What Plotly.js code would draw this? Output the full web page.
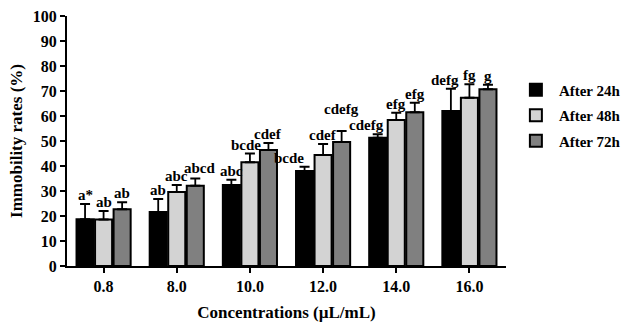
<!DOCTYPE html>
<html>
<head>
<meta charset="utf-8">
<script src="https://cdn.plot.ly/plotly-3.0.1.min.js"></script>
<style>html,body{margin:0;padding:0;background:#fff;}#chart{width:627px;height:327px;}</style>
</head>
<body>
<div id="chart"></div>
<script>
var categories = ["0.8", "8.0", "10.0", "12.0", "14.0", "16.0"];
var seriesNames = ["After 24h", "After 48h", "After 72h"];
var after24 = [18.7, 21.6, 32.4, 38.0, 51.3, 62.0];
var after48 = [18.6, 29.6, 41.5, 44.4, 58.4, 67.3];
var after72 = [22.7, 32.1, 46.4, 49.6, 61.5, 70.7];
var err24 = [6.1, 5.2, 2.1, 1.7, 1.4, 8.9];
var err48 = [3.4, 2.8, 3.5, 4.4, 2.9, 5.4];
var err72 = [2.8, 2.9, 2.8, 4.4, 3.8, 1.8];
var letters24 = ["a*", "ab", "abc", "bcde", "cdefg", "defg"];
var letters48 = ["ab", "abc", "bcde", "cdef", "efg", "fg"];
var letters72 = ["ab", "abcd", "cdef", "cdefg", "efg", "g"];

var colors = ["#000000", "#d3d3d3", "#808080"];
var values = [after24, after48, after72];
var errs = [err24, err48, err72];
var letters = [letters24, letters48, letters72];

var FONT = "Liberation Serif, Times New Roman, serif";
var bargap = 0.24, bargroupgap = 0.08;
var slot = (1 - bargap) / 3;

var traces = values.map(function (v, k) {
  return {
    type: "bar",
    name: "<b>" + seriesNames[k] + "</b>",
    legendgroup: "g" + k,
    x: categories,
    y: v,
    marker: {color: colors[k], line: {color: "#000", width: 2}},
    error_y: {type: "data", array: errs[k], symmetric: false, arrayminus: v.map(function(){return 0;}), color: "#000", thickness: 1.8, width: 5},
    hoverinfo: "skip"
  };
});

// label nudges (pixels) to avoid overlaps, as in the figure
var nudgeX = {"0-3": -16, "0-4": -11, "0-5": -6, "2-1": 5, "1-2": -4};
var nudgeY = {"2-3": 13, "2-1": 2};

var annotations = [];
for (var k = 0; k < 3; k++) {
  for (var i = 0; i < categories.length; i++) {
    var key = k + "-" + i;
    annotations.push({
      x: i + (k - 1) * slot,
      y: values[k][i] + errs[k][i],
      xref: "x", yref: "y",
      text: "<b>" + letters[k][i] + "</b>",
      showarrow: false,
      yanchor: "bottom",
      xanchor: "center",
      xshift: nudgeX[key] || 0,
      yshift: (nudgeY[key] || 0) - 1,
      font: {family: FONT, size: 15, color: "#000"}
    });
  }
}

var layout = {
  width: 627, height: 327,
  margin: {l: 67, r: 121, t: 16, b: 61},
  paper_bgcolor: "#fff", plot_bgcolor: "#fff",
  barmode: "group", bargap: bargap, bargroupgap: bargroupgap,
  font: {family: FONT, color: "#000"},
  showlegend: true,
  legend: {xref: "container", yref: "container", x: 0.818, y: 0.775, xanchor: "left", yanchor: "top", font: {family: FONT, size: 15, color: "#000"}, itemwidth: 36, tracegroupgap: 3, traceorder: "grouped"},
  xaxis: {
    type: "category", range: [-0.5, 5.5],
    showline: true, linecolor: "#000", linewidth: 2,
    ticks: "outside", ticklen: 5, tickwidth: 2, tickcolor: "#000",
    tickfont: {family: FONT, size: 16, color: "#000", weight: "bold"},
    showgrid: false, zeroline: false,
    title: {text: "<b>Concentrations (µL/mL)</b>", font: {family: FONT, size: 17, color: "#000"}, standoff: 12}
  },
  yaxis: {
    range: [0, 100], dtick: 10,
    showline: true, linecolor: "#000", linewidth: 2,
    ticks: "outside", ticklen: 5, tickwidth: 2, tickcolor: "#000",
    tickfont: {family: FONT, size: 16, color: "#000", weight: "bold"},
    showgrid: false, zeroline: false,
    title: {text: "<b>Immobility rates (%)</b>", font: {family: FONT, size: 17, color: "#000"}, standoff: 6}
  },
  annotations: annotations
};

Plotly.newPlot("chart", traces, layout, {displayModeBar: false, staticPlot: true});
</script>
</body>
</html>
